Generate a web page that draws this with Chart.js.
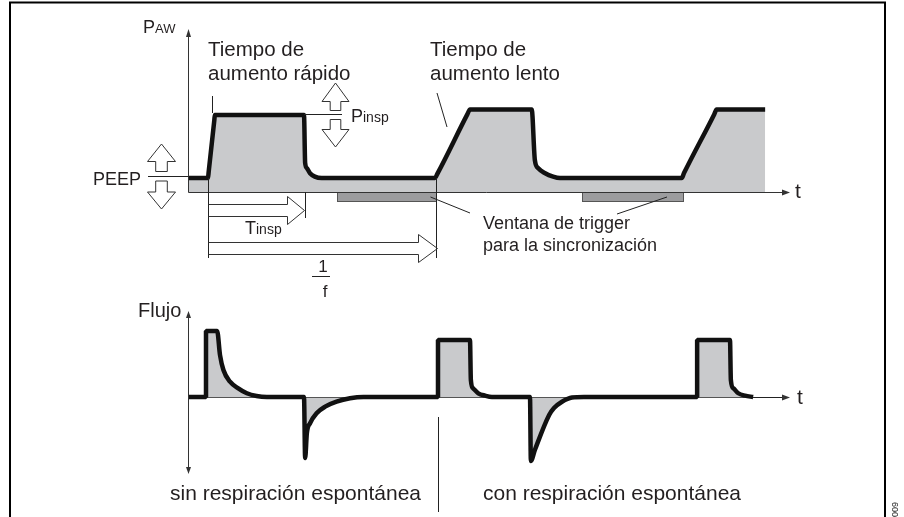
<!DOCTYPE html>
<html><head><meta charset="utf-8">
<script src="https://cdn.jsdelivr.net/npm/chart.js@4/dist/chart.umd.min.js"></script>
<style>html,body{margin:0;padding:0;background:#fff}canvas{display:block}</style>
</head><body>
<canvas id="c" width="904" height="517"></canvas>
<script>
// ---- Data (time in s, pressure in cmH2O, flow in L/min) ----
const P_TIME   = [0, 0.35, 0.362, 0.46, 0.47, 2.03, 2.05, 2.08, 2.135, 2.22, 2.34, 4.32, 4.37, 4.89, 4.935, 6.015, 6.07, 6.13, 6.25, 6.39, 6.51, 8.64, 8.68, 9.21, 9.25, 10.1];
const P_VALUES = [5, 5, 7.25, 25.5, 27.5, 27.5, 10.4, 8.5, 6.7, 5.5, 5, 5, 6.75, 27.8, 29.5, 29.5, 11.4, 8.5, 6.7, 5.5, 5, 5, 6.75, 27.8, 29.5, 29.5];

const F_TIME   = [0, 0.315, 0.315, 0.51, 0.56, 0.62, 0.735, 0.88, 1.03, 1.2, 1.38, 2.03, 2.05, 2.08, 2.135, 2.25, 2.4, 2.6, 2.835, 3.07, 4.375, 4.375, 4.935, 4.95, 4.99, 5.08, 5.2, 5.32, 5.985, 6.0, 6.07, 6.32, 6.405, 6.545, 6.72, 6.93, 8.91, 8.91, 9.485, 9.5, 9.545, 9.63, 9.75, 9.89];
const F_VALUES = [0, 0, 60, 60, 38.2, 24.5, 13.9, 7.9, 3.4, 0.9, 0, 0, -55.5, -33, -23.9, -14.8, -8.8, -4.3, -1.2, 0, 0, 51.8, 51.8, 15.5, 7.9, 3.4, 1.2, 0, 0, -58.2, -48.2, -16.4, -10, -4.3, -0.45, 0, 0, 51.8, 51.8, 15.5, 7.9, 3.4, 1.2, 0];

const BREATH_START = 0.35;   // start of first mandatory breath
const T_INSP = 1.7;          // inspiratory time
const PERIOD = 3.99;         // 1/f
const TRIGGER_WINDOWS = [[2.61, 4.34], [6.9, 8.66]];
const FLOW_MARK = 4.375;     // separator between the two cases
const RISE_MARK = 0.42;      // leader of "rápido"
const P_INSP = 27.5;

const LABELS = {
  paw: ['P', 'AW'], pinsp: ['P', 'insp'], tinsp: ['T', 'insp'], peep: 'PEEP',
  fast: ['Tiempo de', 'aumento rápido'], slow: ['Tiempo de', 'aumento lento'],
  trigger: ['Ventana de trigger', 'para la sincronización'],
  flow: 'Flujo', t: 't', sin: 'sin respiración espontánea', con: 'con respiración espontánea', code: '009'
};

// ---- layout ----
const FONT = '"Liberation Sans", Arial, Helvetica, sans-serif';
const TXT = '#231f20';
const P_BASE_PX = 192, P_PX_PER = 2.8, F_BASE_PX = 397, F_PX_PER = 1.1, H = 517;

function seg(ctx, x1, y1, x2, y2) { ctx.beginPath(); ctx.moveTo(x1, y1); ctx.lineTo(x2, y2); ctx.stroke(); }
function tri(ctx, pts) { ctx.beginPath(); ctx.moveTo(pts[0], pts[1]); ctx.lineTo(pts[2], pts[3]); ctx.lineTo(pts[4], pts[5]); ctx.closePath(); ctx.fill(); }
function hollowH(ctx, x0, tip, cy, headLen, sh, hh) {
  const hb = tip - headLen;
  ctx.beginPath();
  ctx.moveTo(x0, cy - sh); ctx.lineTo(hb, cy - sh); ctx.lineTo(hb, cy - hh); ctx.lineTo(tip, cy);
  ctx.lineTo(hb, cy + hh); ctx.lineTo(hb, cy + sh); ctx.lineTo(x0, cy + sh);
  ctx.stroke();
}
function hollowV(ctx, cx, tipY, headBase, stemEnd, hh, sh) {
  ctx.beginPath();
  ctx.moveTo(cx, tipY); ctx.lineTo(cx + hh, headBase); ctx.lineTo(cx + sh, headBase); ctx.lineTo(cx + sh, stemEnd);
  ctx.lineTo(cx - sh, stemEnd); ctx.lineTo(cx - sh, headBase); ctx.lineTo(cx - hh, headBase); ctx.closePath();
  ctx.fillStyle = '#fff'; ctx.fill(); ctx.stroke();
}
function subText(ctx, parts, x, y, s1, s2) {
  ctx.font = s1 + 'px ' + FONT; ctx.fillText(parts[0], x, y);
  const w = ctx.measureText(parts[0]).width;
  ctx.font = s2 + 'px ' + FONT; ctx.fillText(parts[1], x + w, y);
}
function text(ctx, s, x, y, size, align) {
  ctx.font = size + 'px ' + FONT; ctx.textAlign = align || 'left'; ctx.fillText(s, x, y); ctx.textAlign = 'left';
}

const annot = {
  id: 'annot',
  beforeDatasetsDraw(chart) {
    const { ctx, scales: { x, yF } } = chart;
    const fb = Math.round(yF.getPixelForValue(0)) + 0.5;
    ctx.save();
    ctx.strokeStyle = '#555'; ctx.lineWidth = 1;
    seg(ctx, x.getPixelForValue(0), fb, x.getPixelForValue(x.max), fb);
    ctx.restore();
  },
  afterDatasetsDraw(chart) {
    const { ctx, scales: { x, yP, yF } } = chart;
    const X = t => x.getPixelForValue(t);
    const pb = Math.round(yP.getPixelForValue(0));
    const fb = Math.round(yF.getPixelForValue(0));
    const x0 = Math.round(X(0)) + 0.5, xe = X(x.max);
    ctx.save();
    ctx.lineCap = 'butt'; ctx.lineJoin = 'miter';
    ctx.textBaseline = 'alphabetic';

    // frame
    ctx.strokeStyle = '#000'; ctx.lineWidth = 2;
    ctx.beginPath(); ctx.moveTo(10, H); ctx.lineTo(10, 2.5); ctx.lineTo(885, 2.5); ctx.lineTo(885, H); ctx.stroke();

    // trigger windows
    ctx.lineWidth = 1; ctx.strokeStyle = '#555'; ctx.fillStyle = '#9c9c9e';
    TRIGGER_WINDOWS.forEach(([a, b]) => {
      const xa = Math.round(X(a)) + 0.5, xb = Math.round(X(b)) + 0.5;
      ctx.fillRect(xa, pb, xb - xa, 9.5);
      ctx.strokeRect(xa, pb + 0.5, xb - xa, 9);
    });

    // pressure axes
    ctx.strokeStyle = '#333'; ctx.fillStyle = '#333'; ctx.lineWidth = 1;
    seg(ctx, x0, pb + 0.5, x0, pb - 158);
    tri(ctx, [x0, pb - 163, x0 - 2.5, pb - 155, x0 + 2.5, pb - 155]);
    seg(ctx, x0, pb + 0.5, xe - 4, pb + 0.5);
    tri(ctx, [xe + 2, pb + 0.5, xe - 6, pb - 2.5, xe - 6, pb + 3.5]);

    // flow axes
    seg(ctx, x0, fb - 82, x0, fb + 73);
    tri(ctx, [x0, fb - 86, x0 - 2.5, fb - 79, x0 + 2.5, fb - 79]);
    tri(ctx, [x0, fb + 77, x0 - 2.5, fb + 70, x0 + 2.5, fb + 70]);
    ctx.strokeStyle = '#222';
    seg(ctx, X(F_TIME[F_TIME.length - 1]), fb + 0.5, xe - 4, fb + 0.5);
    tri(ctx, [xe + 2, fb + 0.5, xe - 6, fb - 2.5, xe - 6, fb + 3.5]);

    // reference lines
    ctx.strokeStyle = '#222'; ctx.lineWidth = 1;
    const xs = Math.round(X(BREATH_START)) + 0.5;
    const xi = Math.round(X(BREATH_START + T_INSP)) + 0.5;
    const xp = Math.round(X(BREATH_START + PERIOD)) + 0.5;
    seg(ctx, xs, pb - 14, xs, pb + 66);
    seg(ctx, xi, pb, xi, pb + 26);
    seg(ctx, xp, pb - 14, xp, pb + 66);
    const xr = Math.round(X(RISE_MARK)) + 0.5;
    seg(ctx, xr, 96, xr, yP.getPixelForValue(P_INSP) - 2);
    seg(ctx, 437, 93, 447, 127);
    seg(ctx, xp - 6, pb + 5, 470, 213);
    seg(ctx, 667, pb + 5, 617, 214);
    // PEEP and Pinsp level lines
    seg(ctx, 148, 176.5, x0, 176.5);
    const piy = Math.round(yP.getPixelForValue(P_INSP)) - 0.5;
    seg(ctx, X(2.03), piy, 342, piy);

    // hollow arrows
    ctx.strokeStyle = '#333'; ctx.lineWidth = 1;
    hollowH(ctx, xs, xi - 1, pb + 18.5, 17, 6, 14);
    hollowH(ctx, xs, xp + 1, pb + 56.5, 19, 6, 14);
    hollowV(ctx, 161.5, 144, 161.5, 171.5, 14, 5.8);
    hollowV(ctx, 161.5, 209, 192, 181, 14, 5.8);
    hollowV(ctx, 335.5, 83, 101.5, 110.5, 13.5, 5.3);
    hollowV(ctx, 335.5, 147, 129.5, 119.5, 13.5, 5.3);

    // fraction 1/f
    ctx.fillStyle = TXT;
    text(ctx, '1', 323, 272, 17, 'center');
    ctx.strokeStyle = '#222'; seg(ctx, 312, 276.5, 330, 276.5);
    text(ctx, 'f', 325, 297, 17, 'center');

    // texts
    subText(ctx, LABELS.paw, 143, 33, 18, 13);
    subText(ctx, LABELS.pinsp, 351, 122, 18, 14);
    subText(ctx, LABELS.tinsp, 245, 234, 18, 14);
    text(ctx, LABELS.peep, 93, 185, 18);
    text(ctx, LABELS.fast[0], 208, 56, 20.5);
    text(ctx, LABELS.fast[1], 208, 80, 20.5);
    text(ctx, LABELS.slow[0], 430, 56, 20.5);
    text(ctx, LABELS.slow[1], 430, 80, 20.5);
    text(ctx, LABELS.trigger[0], 483, 229, 18);
    text(ctx, LABELS.trigger[1], 483, 251, 18);
    text(ctx, LABELS.t, 795, pb + 6, 21);
    text(ctx, LABELS.flow, 138, 317, 20);
    text(ctx, LABELS.t, 797, fb + 7, 21);
    text(ctx, LABELS.sin, 170, 500, 21);
    text(ctx, LABELS.con, 483, 500, 21);

    // separator
    ctx.strokeStyle = '#222';
    const xm = Math.round(X(FLOW_MARK)) + 0.5;
    seg(ctx, xm, 417, xm, 512);

    // code
    ctx.save();
    ctx.translate(897.5, 502); ctx.rotate(-Math.PI / 2);
    ctx.font = '9px ' + FONT; ctx.textAlign = 'right'; ctx.fillStyle = '#222';
    ctx.fillText(LABELS.code, 0, 0);
    ctx.restore();

    ctx.restore();
  }
};

const toXY = (ts, vs) => ts.map((t, i) => ({ x: t, y: vs[i] }));

new Chart(document.getElementById('c'), {
  type: 'line',
  data: {
    datasets: [
      { label: 'Presión', data: toXY(P_TIME, P_VALUES), yAxisID: 'yP', borderColor: '#111', borderWidth: 4.5,
        backgroundColor: '#c9cacc', fill: 'origin', cubicInterpolationMode: 'monotone', borderJoinStyle: 'bevel',
        pointRadius: 0, clip: false },
      { label: 'Flujo', data: toXY(F_TIME, F_VALUES), yAxisID: 'yF', borderColor: '#111', borderWidth: 4.5,
        backgroundColor: '#c9cacc', fill: 'origin', cubicInterpolationMode: 'monotone', borderJoinStyle: 'bevel',
        pointRadius: 0, clip: false }
    ]
  },
  options: {
    responsive: false, animation: false, devicePixelRatio: 1,
    layout: { padding: { left: 188, right: 116, top: 0, bottom: 0 } },
    scales: {
      x: { type: 'linear', min: 0, max: 10.5, display: false },
      yP: { type: 'linear', min: -(H - P_BASE_PX) / P_PX_PER, max: P_BASE_PX / P_PX_PER, display: false },
      yF: { type: 'linear', min: -(H - F_BASE_PX) / F_PX_PER, max: F_BASE_PX / F_PX_PER, display: false }
    },
    plugins: { legend: { display: false }, tooltip: { enabled: false }, filler: { drawTime: 'beforeDatasetsDraw' } }
  },
  plugins: [annot]
});
</script>
</body></html>
